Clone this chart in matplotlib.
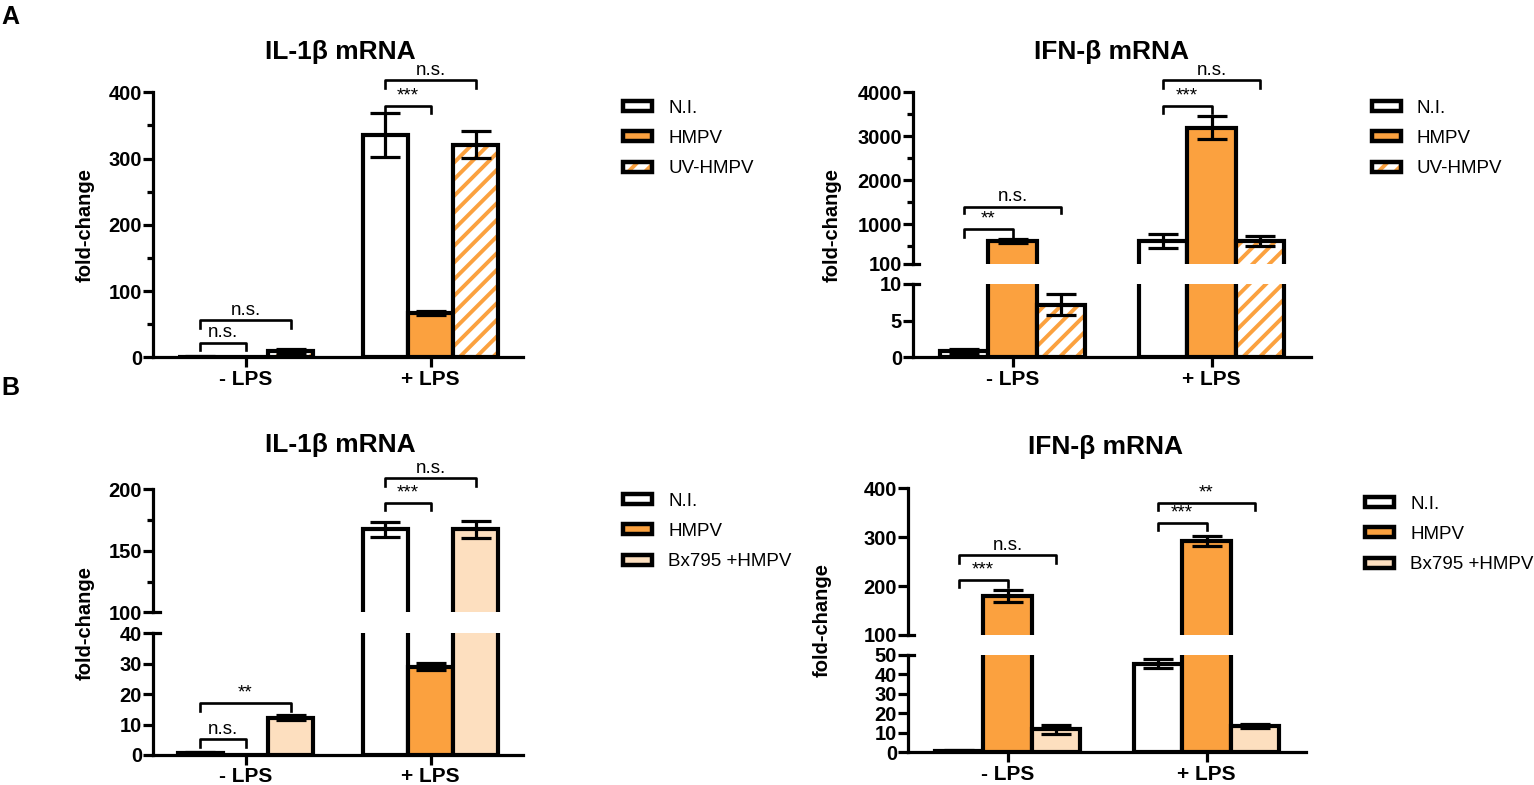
import numpy as np
import matplotlib.pyplot as plt
from matplotlib.patches import Patch
from matplotlib.legend_handler import HandlerTuple

plt.rcParams['font.family'] = ['Liberation Sans', 'DejaVu Sans']
plt.rcParams['font.weight'] = 'bold'
plt.rcParams['hatch.linewidth'] = 2.8

# ---- data ----
groups = ['- LPS', '+ LPS']

# panel A, IL-1b
a_il_ni = [1.0, 335]
a_il_ni_err = [0.5, 33]
a_il_hmpv = [0.0, 67]
a_il_hmpv_err = [0.0, 3]
a_il_uv = [9.5, 321]
a_il_uv_err = [2.5, 20]

# panel A, IFN-b
a_ifn_ni = [0.8, 630]
a_ifn_ni_err = [0.3, 160]
a_ifn_hmpv = [620, 3200]
a_ifn_hmpv_err = [40, 260]
a_ifn_uv = [7.2, 630]
a_ifn_uv_err = [1.4, 115]

# panel B, IL-1b
b_il_ni = [0.5, 167.5]
b_il_ni_err = [0.6, 6]
b_il_hmpv = [0.0, 29]
b_il_hmpv_err = [0.0, 1.2]
b_il_bx = [12.3, 167.5]
b_il_bx_err = [0.9, 7]

# panel B, IFN-b
b_ifn_ni = [0.7, 45.5]
b_ifn_ni_err = [0.7, 2.2]
b_ifn_hmpv = [180, 293]
b_ifn_hmpv_err = [12, 10]
b_ifn_bx = [11.8, 13.5]
b_ifn_bx_err = [2.2, 1.0]

# brackets: (group, bar i, bar j, line y, leg end y, label)
a_il_sig = [(0, 0, 1, 22, 11, 'n.s.'), (0, 0, 2, 56, 44, 'n.s.'),
            (1, 0, 1, 379, 369, '***'), (1, 0, 2, 418, 406, 'n.s.')]
a_ifn_sig = [(0, 0, 1, 888, 706, '**'), (0, 0, 2, 1400, 1250, 'n.s.'),
             (1, 0, 1, 3690, 3536, '***'), (1, 0, 2, 4280, 4090, 'n.s.')]
b_il_sig = [(0, 0, 1, 5.2, 2.7, 'n.s.'), (0, 0, 2, 17, 14.3, '**'),
            (1, 0, 1, 189, 183, '***'), (1, 0, 2, 209, 203, 'n.s.')]
b_ifn_sig = [(0, 0, 1, 212, 197.5, '***'), (0, 0, 2, 263.6, 248, 'n.s.'),
             (1, 0, 1, 330, 315, '***'), (1, 0, 2, 370, 356, '**')]

labels_a = ['N.I.', 'HMPV', 'UV-HMPV']
labels_b = ['N.I.', 'HMPV', 'Bx795 +HMPV']

orange = '#FBA13F'
peach = '#FDDFBF'

W, H = 1534, 785
grp_x = np.array([0.0, 4.1])
offs = [-1, 0, 1]
LW = 2.3

fig = plt.figure(figsize=(W / 100, H / 100), dpi=100)


def rect(x0, x1, y0, y1):
    return [x0 / W, 1 - y1 / H, (x1 - x0) / W, (y1 - y0) / H]


def style_ax(ax, ylim, ticks, minors, bottom_axis):
    ax.set_xlim(-2.05, 6.15)
    ax.set_ylim(*ylim)
    ax.set_yticks(ticks)
    ax.set_yticks(minors, minor=True)
    ax.spines['top'].set_visible(False)
    ax.spines['right'].set_visible(False)
    ax.spines['left'].set_linewidth(LW)
    ax.spines['bottom'].set_linewidth(LW)
    ax.tick_params(axis='y', which='major', length=7, width=LW, labelsize=14.5, pad=1)
    ax.tick_params(axis='y', which='minor', length=4, width=LW)
    if bottom_axis:
        ax.set_xticks(grp_x)
        ax.set_xticklabels(groups)
        ax.tick_params(axis='x', length=7, width=LW, labelsize=15, pad=2)
    else:
        ax.spines['bottom'].set_visible(False)
        ax.set_xticks([])


def bars(ax, vals, errs, kinds):
    for k in range(3):
        x = grp_x + offs[k]
        if kinds[k] == 'hatch':
            ax.bar(x, vals[k], 1, color='white', edgecolor=orange, hatch='//', lw=0)
            ax.bar(x, vals[k], 1, fill=False, edgecolor='black', lw=3)
        else:
            ax.bar(x, vals[k], 1, color=kinds[k], edgecolor='black', lw=3)
        ax.errorbar(x, vals[k], yerr=errs[k], fmt='none', ecolor='black',
                    elinewidth=LW, capsize=11, capthick=LW)


def brackets(axs, sig, split):
    for g, i, j, y, y2, txt in sig:
        ax = axs[0] if (split is None or y > split) else axs[1]
        x1 = grp_x[g] + offs[i]
        x2 = grp_x[g] + offs[j]
        ax.plot([x1, x1, x2, x2], [y2, y, y, y2], color='black', lw=1.9, clip_on=False)
        ax.annotate(txt, ((x1 + x2) / 2, y), xytext=(0, 1), textcoords='offset points',
                    ha='center', va='bottom', fontsize=13.5, fontweight='normal',
                    annotation_clip=False)


def break_marks(ax_top, ax_bot, ytop_low, ybot_high, frac):
    ax_top.plot([0, frac], [ytop_low, ytop_low], color='black', lw=LW,
                transform=ax_top.get_yaxis_transform(), clip_on=False)
    ax_bot.plot([0, frac], [ybot_high, ybot_high], color='black', lw=LW,
                transform=ax_bot.get_yaxis_transform(), clip_on=False)


def legend(x, y, labels, kinds):
    handles = []
    for k in kinds:
        if k == 'hatch':
            handles.append((Patch(facecolor='white', edgecolor=orange, hatch='//', lw=0),
                            Patch(fill=False, edgecolor='black', lw=3.2)))
        else:
            handles.append(Patch(facecolor=k, edgecolor='black', lw=3.2))
    fig.legend(handles, labels, loc='upper left', bbox_to_anchor=(x / W, 1 - y / H),
               frameon=False, borderpad=0, borderaxespad=0, handlelength=1.55,
               handleheight=0.45, handletextpad=0.85, labelspacing=0.7,
               prop={'size': 13.5, 'weight': 'normal'},
               handler_map={tuple: HandlerTuple(ndivide=1)})


kinds_a = ['white', orange, 'hatch']
kinds_b = ['white', orange, peach]

# ---- A, IL-1b (single axis) ----
ax = fig.add_axes(rect(153, 523, 92.3, 357.3))
bars(ax, [a_il_ni, a_il_hmpv, a_il_uv], [a_il_ni_err, a_il_hmpv_err, a_il_uv_err], kinds_a)
style_ax(ax, (0, 400), np.arange(0, 401, 100), np.arange(50, 400, 100), True)
brackets([ax], a_il_sig, None)
legend(623, 100, labels_a, kinds_a)

# ---- A, IFN-b (broken axis) ----
axt = fig.add_axes(rect(913, 1311, 92.3, 264))
axb = fig.add_axes(rect(913, 1311, 284, 357.3))
for a in (axt, axb):
    bars(a, [a_ifn_ni, a_ifn_hmpv, a_ifn_uv], [a_ifn_ni_err, a_ifn_hmpv_err, a_ifn_uv_err], kinds_a)
style_ax(axt, (100, 4000), [100, 1000, 2000, 3000, 4000], [500, 1500, 2500, 3500], False)
style_ax(axb, (0, 10), [0, 5, 10], [], True)
brackets([axt, axb], a_ifn_sig, 100)
break_marks(axt, axb, 100, 10, 0.015)
legend(1372, 100, labels_a, kinds_a)

# ---- B, IL-1b (broken axis) ----
axt = fig.add_axes(rect(153, 523, 489.3, 612.3))
axb = fig.add_axes(rect(153, 523, 633.3, 755))
for a in (axt, axb):
    bars(a, [b_il_ni, b_il_hmpv, b_il_bx], [b_il_ni_err, b_il_hmpv_err, b_il_bx_err], kinds_b)
style_ax(axt, (100, 200), [100, 150, 200], [125, 175], False)
style_ax(axb, (0, 40), [0, 10, 20, 30, 40], [], True)
brackets([axt, axb], b_il_sig, 100)
break_marks(axt, axb, 100, 40, 0.02)
legend(623, 493, labels_b, kinds_b)

# ---- B, IFN-b (broken axis) ----
axt = fig.add_axes(rect(908, 1306, 488.3, 635))
axb = fig.add_axes(rect(908, 1306, 655, 752.3))
for a in (axt, axb):
    bars(a, [b_ifn_ni, b_ifn_hmpv, b_ifn_bx], [b_ifn_ni_err, b_ifn_hmpv_err, b_ifn_bx_err], kinds_b)
style_ax(axt, (100, 400), [100, 200, 300, 400], [], False)
style_ax(axb, (0, 50), [0, 10, 20, 30, 40, 50], [], True)
brackets([axt, axb], b_ifn_sig, 100)
break_marks(axt, axb, 100, 50, 0.015)
legend(1365, 496, labels_b, kinds_b)

# ---- titles, axis labels, panel letters ----
for x, y, t in [(340, 52, 'IL-1β mRNA'), (1112, 52, 'IFN-β mRNA'),
                (340, 445, 'IL-1β mRNA'), (1105, 447, 'IFN-β mRNA')]:
    fig.text(x / W, 1 - y / H, t, ha='center', va='center', fontsize=19)
for x, y in [(85, 225), (832, 225), (85, 623), (822, 620)]:
    fig.text(x / W, 1 - y / H, 'fold-change', ha='center', va='center',
             rotation=90, fontsize=14.5)
fig.text(10 / W, 1 - 17 / H, 'A', ha='center', va='center', fontsize=18)
fig.text(10 / W, 1 - 388 / H, 'B', ha='center', va='center', fontsize=18)

fig.savefig('out.png', dpi=100)
